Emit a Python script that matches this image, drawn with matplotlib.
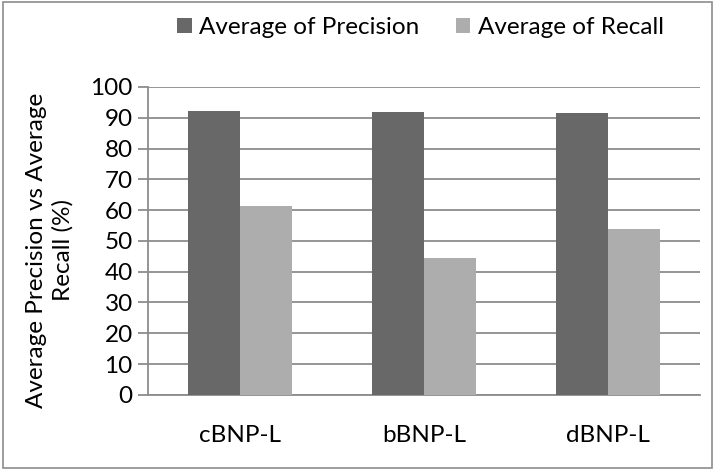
import matplotlib.pyplot as plt
import numpy as np
from matplotlib.patches import Rectangle

plt.rcParams['font.family'] = ['Lato', 'DejaVu Sans']

methods = ['cBNP-L', 'bBNP-L', 'dBNP-L']
precision = [92.2, 92.0, 91.7]
recall = [61.4, 44.4, 53.7]

dark = '#686868'
light = '#adadad'
grid_col = '#8c8c8c'
fs = 17.5

fig = plt.figure(figsize=(7.15, 4.70), dpi=100)
ax = fig.add_axes([0.207, 0.16, 0.772, 0.655])

x = np.arange(len(methods))
w = 0.283
ax.bar(x - w / 2, precision, w, color=dark, label='Average of Precision', zorder=3)
ax.bar(x + w / 2, recall, w, color=light, label='Average of Recall', zorder=3)

ax.set_xlim(-0.5, 2.5)
ax.set_ylim(0, 100)
ax.set_yticks(range(0, 101, 10))
ax.set_xticks(x)
ax.set_xticklabels(methods)
ax.yaxis.grid(True, color=grid_col, lw=1.3, zorder=0)
ax.set_axisbelow(True)

for s in ['top', 'right']:
    ax.spines[s].set_visible(False)
for s in ['left', 'bottom']:
    ax.spines[s].set_color(grid_col)
    ax.spines[s].set_linewidth(1.3)

ax.tick_params(axis='y', length=7, width=1.3, color=grid_col, labelsize=fs, pad=4)
ax.tick_params(axis='x', length=0, labelsize=fs, pad=22)

ax.set_ylabel('Average Precision vs Average\nRecall (%)', fontsize=fs, linespacing=1.3)
ax.yaxis.set_label_coords(-0.135, 0.47)

fig.legend(loc='upper center', bbox_to_anchor=(0.588, 1.01), ncol=2, frameon=False,
           fontsize=fs, handlelength=0.6, handleheight=0.6, handletextpad=0.3,
           columnspacing=1.5)

# thin frame around the whole chart
fig.patches.append(Rectangle((0.004, 0.004), 0.992, 0.992, transform=fig.transFigure,
                             fill=False, edgecolor=grid_col, lw=1.2))

fig.savefig('out.png', dpi=100)
